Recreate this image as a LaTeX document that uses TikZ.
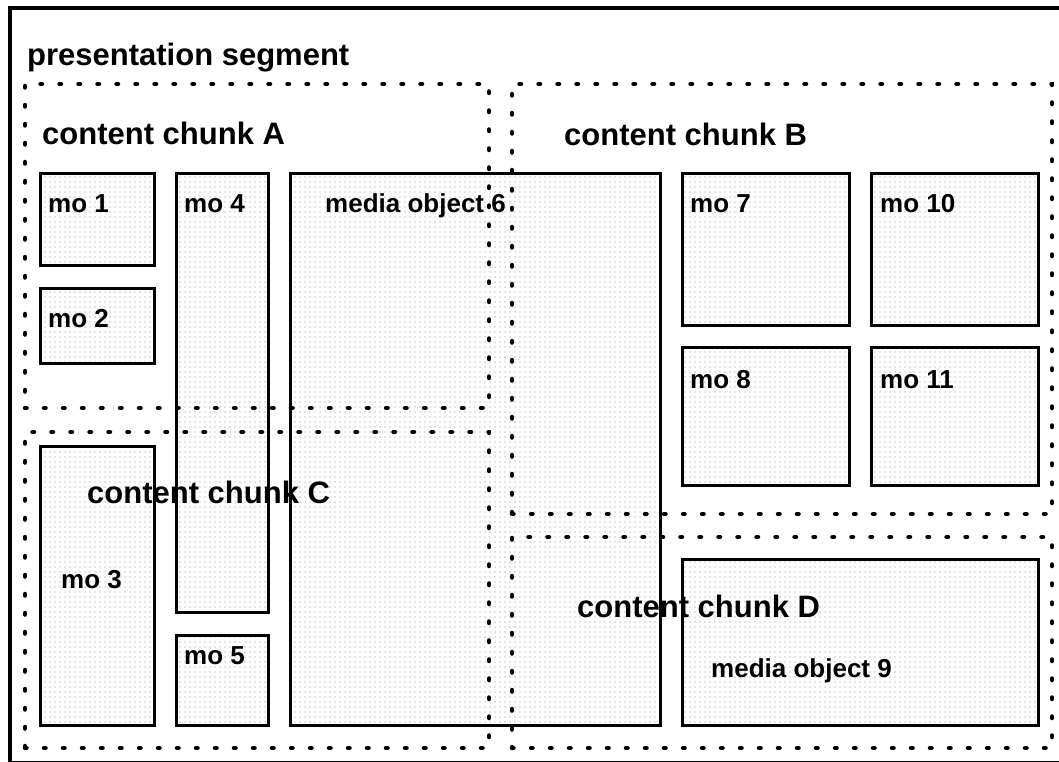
\documentclass[tikz,border=0pt]{standalone}
\usepackage{fontspec}
\setmainfont{Liberation Sans}
\usetikzlibrary{fit,patterns.meta}

\begin{document}
\begin{tikzpicture}[x=1pt,y=-1pt]
        \tikzstyle{mo} = [draw,line width=3pt,inner sep=0pt,pattern={Dots[distance=5pt,radius=0.6pt]},pattern color=black!45]
        \tikzstyle{chunk} = [draw,line width=4.5pt,line cap=round,dash pattern=on 1.5pt off 17.5pt,inner sep=0pt]
        \tikzstyle{big} = [anchor=base west,inner sep=0pt,font=\bfseries\fontsize{31}{36}\selectfont]
        \tikzstyle{small} = [anchor=base west,inner sep=0pt,font=\bfseries\fontsize{26}{30}\selectfont]

        \useasboundingbox (0,0) rectangle (1059,762);
        \node[draw,line width=4pt,inner sep=0pt,fit={(10,8) (1080,763)}] (seg) {};


        % media objects
        \node[mo,fit={(40,174) (154,265)}] (mo1) {};
        \node[mo,fit={(40,288) (154,363)}] (mo2) {};
        \node[mo,fit={(40,446) (154,725)}] (mo3) {};
        \node[mo,fit={(176,174) (268,612)}] (mo4) {};
        \node[mo,fit={(176,635) (268,725)}] (mo5) {};
        \node[mo,fit={(290,174) (660,725)}] (mo6) {};
        \node[mo,fit={(682,174) (849,325)}] (mo7) {};
        \node[mo,fit={(682,347) (849,485)}] (mo8) {};
        \node[mo,fit={(682,559) (1038,725)}] (mo9) {};
        \node[mo,fit={(871,174) (1038,325)}] (mo10) {};
        \node[mo,fit={(871,347) (1038,485)}] (mo11) {};


        % content chunks
        \node[chunk,fit={(25,84) (489,408)}] (A) {};
        \node[chunk,fit={(512,84) (1052,514)}] (B) {};
        \node[chunk,fit={(25,432) (489,748)}] (C) {};
        \node[chunk,fit={(512,537) (1052,748)}] (D) {};


        \node[big] (segtxt) at (27,66) {presentation segment};
        \node[big] (Atxt) at (42,145) {content chunk A};
        \node[big] (Btxt) at (564,146) {content chunk B};
        \node[big] (Ctxt) at (87,503) {content chunk C};
        \node[big] (Dtxt) at (577,617) {content chunk D};

        \node[small] (mo1txt) at (48,212) {mo 1};
        \node[small] (mo2txt) at (48,327) {mo 2};
        \node[small] (mo3txt) at (61,588) {mo 3};
        \node[small] (mo4txt) at (184,212) {mo 4};
        \node[small] (mo5txt) at (184,664) {mo 5};
        \node[small] (mo6txt) at (325,212) {media object 6};
        \node[small] (mo7txt) at (690,212) {mo 7};
        \node[small] (mo8txt) at (690,388) {mo 8};
        \node[small] (mo9txt) at (711,677) {media object 9};
        \node[small] (mo10txt) at (880,212) {mo 10};
        \node[small] (mo11txt) at (880,388) {mo 11};
\end{tikzpicture}
\end{document}
